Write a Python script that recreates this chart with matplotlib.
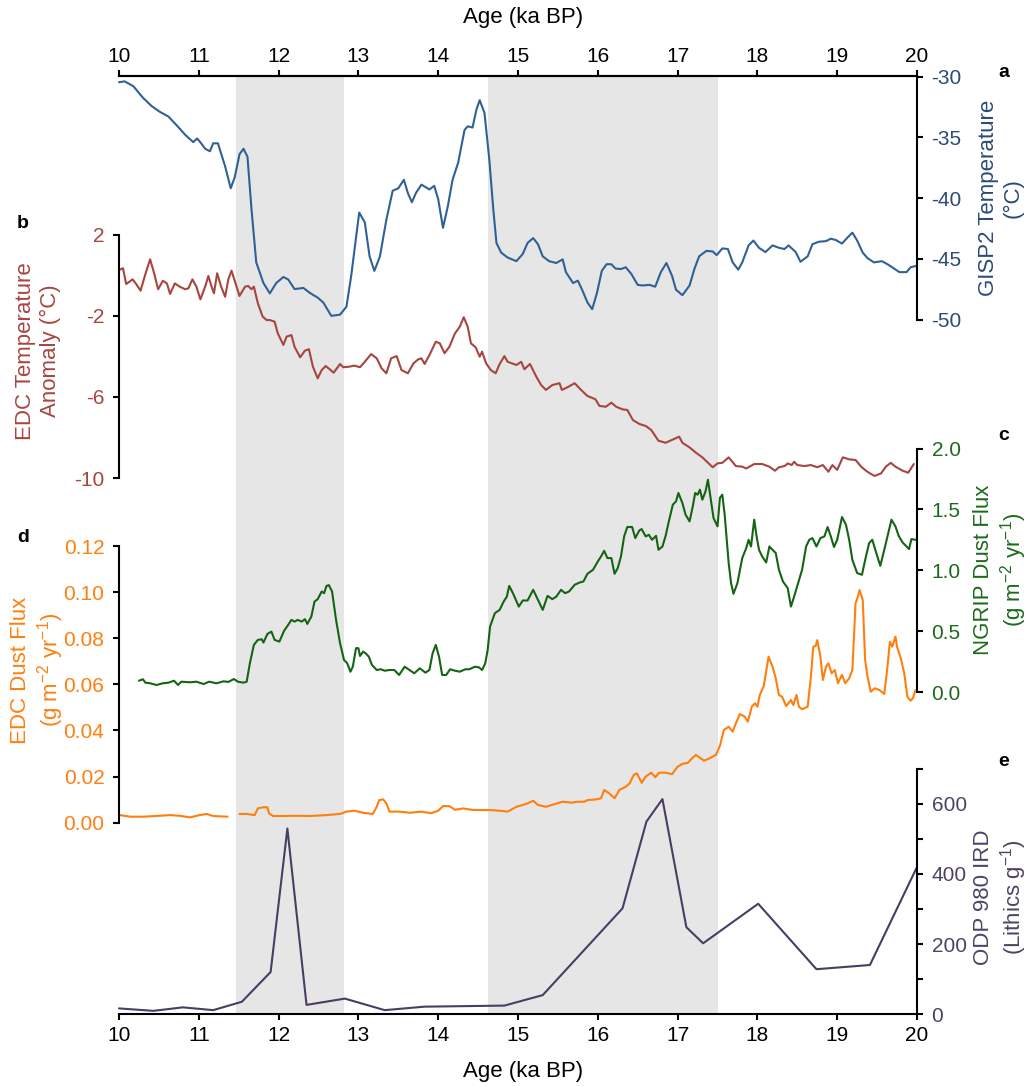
import numpy as np
import matplotlib
matplotlib.use("Agg")
import matplotlib.pyplot as plt

plt.rcParams.update({
    "font.family": ["Liberation Sans", "DejaVu Sans"],
    "axes.unicode_minus": False,
    "mathtext.fontset": "custom",
    "mathtext.rm": "Liberation Sans",
    "mathtext.it": "Liberation Sans:italic",
    "mathtext.bf": "Liberation Sans:bold",
})

# ---------------- data ----------------
# GISP2 temperature (degC)
gisp2_age = [10.00, 10.07, 10.18, 10.30, 10.41, 10.51, 10.62, 10.72, 10.83, 10.93, 10.98, 11.03, 11.08, 11.14,
             11.18, 11.24, 11.33, 11.40, 11.45, 11.51, 11.56, 11.61, 11.66, 11.72, 11.81, 11.89, 11.97, 12.06,
             12.12, 12.20, 12.31, 12.39, 12.49, 12.56, 12.66, 12.77, 12.85, 12.91, 13.01, 13.08, 13.14, 13.20,
             13.27, 13.35, 13.43, 13.50, 13.57, 13.62, 13.67, 13.72, 13.79, 13.89, 13.95, 14.00, 14.06, 14.12,
             14.18, 14.25, 14.33, 14.37, 14.43, 14.48, 14.52, 14.58, 14.64, 14.69, 14.73, 14.79, 14.87,
             14.98, 15.06, 15.12, 15.19, 15.25, 15.31, 15.39, 15.48, 15.56, 15.60, 15.69, 15.75, 15.81, 15.87,
             15.93, 15.99, 16.05, 16.11, 16.17, 16.22, 16.29, 16.35, 16.42, 16.50, 16.56, 16.65, 16.72, 16.79,
             16.86, 16.93, 16.98, 17.06, 17.15, 17.21, 17.27, 17.36, 17.44, 17.49, 17.56, 17.63, 17.69, 17.76,
             17.81, 17.89, 17.95, 18.02, 18.10, 18.19, 18.27, 18.34, 18.39, 18.48, 18.54, 18.63, 18.69, 18.77,
             18.86, 18.92, 18.98, 19.06, 19.13, 19.19, 19.25, 19.32, 19.38, 19.46, 19.56, 19.63, 19.71, 19.78,
             19.87, 19.92, 19.98]
gisp2_temp = [-30.47, -30.4, -30.8, -31.75, -32.44, -32.9, -33.3, -34.0, -34.8, -35.4, -35.1, -35.5, -35.95, -36.15,
              -35.5, -35.5, -37.4, -39.2, -38.3, -36.4, -35.95, -36.6, -40.9, -45.3, -47.0, -47.85, -47.0, -46.5,
              -46.7, -47.5, -47.4, -47.8, -48.2, -48.6, -49.7, -49.6, -48.95, -46.4, -41.2, -42.0, -44.8, -46.0,
              -44.8, -41.8, -39.4, -39.2, -38.5, -39.6, -40.35, -39.6, -38.9, -39.3, -39.0, -40.1, -42.45, -40.7,
              -38.5, -37.1, -34.4, -34.1, -34.2, -32.7, -31.95, -33.0, -36.8, -40.9, -43.7, -44.5, -44.9,
              -45.2, -44.6, -43.7, -43.3, -43.8, -44.8, -45.2, -45.35, -45.05, -46.1, -47.0, -46.8, -47.65, -48.6,
              -49.15, -47.8, -46.0, -45.45, -45.45, -45.8, -45.85, -45.7, -46.25, -47.15, -47.2, -47.15, -47.3, -46.1,
              -45.35, -46.4, -47.55, -48.0, -47.2, -45.85, -44.8, -44.35, -44.4, -44.7, -44.15, -44.2, -45.3, -45.9,
              -45.3, -43.9, -43.5, -44.1, -44.45, -43.9, -44.1, -44.2, -43.9, -44.45, -45.25, -44.8, -43.8, -43.6,
              -43.55, -43.35, -43.45, -43.75, -43.25, -42.85, -43.5, -44.5, -44.95, -45.3, -45.2, -45.45, -45.8, -46.1,
              -46.1, -45.7, -45.6]

# EDC temperature anomaly (degC)
edc_temp_age = [10.00, 10.05, 10.09, 10.13, 10.17, 10.21, 10.27, 10.33, 10.39, 10.44, 10.49, 10.55, 10.60, 10.64,
                10.70, 10.76, 10.83, 10.87, 10.92, 10.97, 11.02, 11.08, 11.12, 11.16, 11.19, 11.23, 11.28, 11.33,
                11.37, 11.41, 11.46, 11.51, 11.58, 11.62, 11.66, 11.69, 11.74, 11.80, 11.85, 11.89, 11.95, 11.99,
                12.06, 12.10, 12.16, 12.20, 12.27, 12.33, 12.38, 12.43, 12.49, 12.54, 12.59, 12.64, 12.69, 12.77,
                12.81, 12.89, 12.95, 13.02, 13.08, 13.16, 13.23, 13.29, 13.35, 13.41, 13.48, 13.54, 13.62, 13.69,
                13.75, 13.79, 13.83, 13.89, 13.97, 14.02, 14.08, 14.14, 14.21, 14.27, 14.32, 14.37, 14.41, 14.47,
                14.52, 14.55, 14.60, 14.66, 14.72, 14.77, 14.83, 14.87,
                14.98, 15.04, 15.08, 15.15, 15.23, 15.29, 15.35, 15.43, 15.52, 15.55, 15.62, 15.71, 15.79, 15.87,
                15.97, 16.02, 16.10, 16.17, 16.23, 16.31, 16.37, 16.44, 16.52, 16.60, 16.67, 16.76, 16.85, 16.93,
                17.02, 17.06, 17.15, 17.23, 17.31, 17.39, 17.44, 17.50, 17.56, 17.64, 17.73, 17.81, 17.86, 17.96,
                18.06, 18.15, 18.22, 18.27, 18.34, 18.38, 18.43, 18.46, 18.50, 18.59, 18.67, 18.75, 18.82, 18.89,
                18.94, 19.00, 19.07, 19.15, 19.23, 19.30, 19.36, 19.41, 19.47, 19.55, 19.61, 19.67, 19.73, 19.82,
                19.89, 19.96]
edc_temp = [0.27, 0.36, -0.42, -0.31, -0.19, -0.39, -0.75, 0.06, 0.80, 0.11, -0.68, -0.26, -0.39, -0.91,
            -0.39, -0.55, -0.68, -0.63, -0.19, -0.55, -1.18, -0.55, -0.02, -0.55, -0.88, 0.11, -0.55, -1.05,
            -0.19, 0.24, -0.39, -1.01, -0.55, -0.52, -0.68, -0.55, -1.37, -2.03, -2.2, -2.2, -2.28, -2.86,
            -3.43, -3.02, -2.94, -3.52, -4.04, -3.71, -3.64, -4.5, -5.08, -4.67, -4.47, -4.63, -4.8, -4.37,
            -4.53, -4.5, -4.45, -4.53, -4.26, -3.88, -4.09, -4.58, -4.83, -4.09, -3.98, -4.67, -4.83, -4.34,
            -4.14, -4.09, -4.37, -3.93, -3.27, -3.35, -3.84, -3.52, -2.86, -2.53, -2.06, -2.53, -3.35, -3.55,
            -4.01, -3.76, -4.34, -4.67, -4.83, -4.37, -3.98, -4.26,
            -4.42, -4.26, -4.63, -4.37, -5.0, -5.41, -5.65, -5.41, -5.32, -5.65, -5.52, -5.32, -5.65, -5.95,
            -6.11, -6.44, -6.48, -6.28, -6.48, -6.61, -6.64, -7.14, -7.33, -7.43, -7.63, -8.16, -8.26, -8.12,
            -7.96, -8.26, -8.49, -8.75, -8.98, -9.28, -9.47, -9.28, -9.25, -8.98, -9.41, -9.44, -9.53, -9.31,
            -9.31, -9.44, -9.64, -9.47, -9.41, -9.28, -9.36, -9.2, -9.36, -9.41, -9.36, -9.47, -9.36, -9.69,
            -9.36, -9.6, -8.98, -9.08, -9.11, -9.44, -9.64, -9.77, -9.9, -9.77, -9.44, -9.25, -9.44, -9.64,
            -9.74, -9.31]

# NGRIP dust flux (g m-2 yr-1)
ngrip_age = [10.25, 10.30, 10.33, 10.39, 10.47, 10.55, 10.62, 10.69, 10.74, 10.78, 10.89, 10.97, 11.06, 11.13,
             11.22, 11.31, 11.37, 11.44, 11.49, 11.56, 11.60, 11.64, 11.69, 11.74, 11.79, 11.81, 11.86, 11.91,
             11.95, 12.01, 12.07, 12.12, 12.16, 12.20, 12.24, 12.29, 12.33, 12.36, 12.41, 12.45, 12.49, 12.54,
             12.57, 12.60, 12.63, 12.67, 12.72, 12.77, 12.82, 12.86, 12.90, 12.93, 12.97, 13.00, 13.02, 13.06,
             13.09, 13.13, 13.17, 13.23, 13.28, 13.33, 13.39, 13.45, 13.51, 13.58, 13.64, 13.70, 13.77, 13.84,
             13.89, 13.93, 13.97, 14.01, 14.05, 14.10, 14.15, 14.21, 14.27, 14.34, 14.39, 14.46, 14.51, 14.55,
             14.59, 14.62, 14.65, 14.71, 14.77, 14.82, 14.86, 14.89, 14.94, 15.01,
             15.06, 15.12, 15.19, 15.25, 15.31, 15.37, 15.43, 15.48, 15.54, 15.59, 15.64, 15.71, 15.77, 15.82,
             15.87, 15.94, 16.00, 16.04, 16.08, 16.12, 16.17, 16.21, 16.25, 16.29, 16.33, 16.37, 16.43, 16.47,
             16.52, 16.55, 16.60, 16.64, 16.68, 16.73, 16.76, 16.81, 16.85, 16.89, 16.94, 16.98, 17.01, 17.06,
             17.10, 17.15, 17.19, 17.22, 17.25, 17.28, 17.31, 17.35, 17.38, 17.42, 17.45, 17.50, 17.53, 17.56,
             17.59, 17.64, 17.67, 17.70, 17.75, 17.79, 17.81, 17.86, 17.89, 17.92, 17.96, 17.99, 18.02, 18.06,
             18.11, 18.15, 18.19, 18.23, 18.27, 18.32, 18.38, 18.42, 18.46, 18.51, 18.56, 18.61, 18.65, 18.69,
             18.74, 18.79, 18.84, 18.88, 18.92, 18.96, 19.00, 19.06, 19.11, 19.15, 19.19, 19.25, 19.31, 19.36,
             19.40, 19.44, 19.49, 19.54, 19.59, 19.63, 19.68, 19.73, 19.77, 19.82, 19.86, 19.90, 19.93, 19.98]
ngrip_flux = [0.095, 0.107, 0.079, 0.074, 0.06, 0.074, 0.079, 0.095, 0.06, 0.087, 0.082, 0.087, 0.068, 0.087,
              0.074, 0.09, 0.085, 0.109, 0.087, 0.079, 0.087, 0.238, 0.389, 0.43, 0.435, 0.408, 0.479, 0.498,
              0.43, 0.416, 0.506, 0.553, 0.594, 0.58, 0.594, 0.58, 0.6, 0.561, 0.621, 0.744, 0.764, 0.827,
              0.813, 0.873, 0.879, 0.827, 0.594, 0.403, 0.265, 0.238, 0.169, 0.21, 0.362, 0.362, 0.298, 0.334,
              0.32, 0.293, 0.224, 0.183, 0.189, 0.177, 0.183, 0.183, 0.142, 0.21, 0.183, 0.156, 0.197, 0.161,
              0.183, 0.32, 0.389, 0.293, 0.142, 0.142, 0.189, 0.177, 0.169, 0.189, 0.189, 0.21, 0.205, 0.183,
              0.238, 0.348, 0.539, 0.649, 0.676, 0.744, 0.785, 0.873, 0.808, 0.703,
              0.753, 0.753, 0.841, 0.758, 0.676, 0.791, 0.764, 0.785, 0.841, 0.813, 0.827, 0.882, 0.9, 0.909,
              0.972, 1.005, 1.073, 1.114, 1.161, 1.101, 1.101, 0.972, 1.019, 1.114, 1.279, 1.356, 1.356, 1.265,
              1.328, 1.339, 1.279, 1.292, 1.251, 1.284, 1.169, 1.196, 1.284, 1.402, 1.539, 1.566, 1.635, 1.553,
              1.457, 1.402, 1.525, 1.635, 1.621, 1.662, 1.58, 1.648, 1.744, 1.566, 1.43, 1.361, 1.594, 1.621,
              1.457, 1.06, 0.896, 0.808, 0.896, 1.032, 1.101, 1.183, 1.251, 1.196, 1.416, 1.279, 1.169, 1.114,
              1.065, 1.196, 1.169, 1.142, 1.005, 0.909, 0.854, 0.703, 0.785, 0.896, 1.005, 1.196, 1.251, 1.265,
              1.196, 1.265, 1.279, 1.356, 1.279, 1.192, 1.251, 1.438, 1.375, 1.251, 1.087, 0.978, 0.964, 1.114,
              1.224, 1.251, 1.142, 1.038, 1.169, 1.279, 1.416, 1.361, 1.284, 1.229, 1.202, 1.175, 1.257, 1.251]

# EDC dust flux (g m-2 yr-1); NaN marks the gap in the record
edc_dust_age = [10.01, 10.14, 10.30, 10.51, 10.64, 10.76, 10.89, 11.01, 11.10, 11.18, 11.36, 11.44,
                11.51, 11.60, 11.70, 11.74, 11.81, 11.86, 11.88, 11.93, 12.06, 12.22, 12.39, 12.60, 12.77,
                12.85, 12.95, 13.06, 13.18, 13.23, 13.26, 13.31, 13.35, 13.39, 13.52, 13.64, 13.79, 13.91,
                14.00, 14.06, 14.14, 14.21, 14.31, 14.44, 14.52, 14.64, 14.77, 14.87, 14.98, 15.06, 15.12,
                15.19, 15.25, 15.35, 15.46, 15.56, 15.67, 15.75, 15.83, 15.87, 15.98, 16.04, 16.08, 16.14,
                16.21, 16.27, 16.35, 16.40, 16.45, 16.49, 16.55, 16.60, 16.67, 16.72, 16.77, 16.85, 16.93,
                17.00, 17.06, 17.13, 17.18, 17.23, 17.27, 17.33, 17.40, 17.48, 17.53, 17.58, 17.64, 17.69,
                17.73, 17.78, 17.84, 17.88, 17.93, 17.97, 18.00, 18.03, 18.08, 18.14, 18.19, 18.23, 18.27,
                18.31, 18.36, 18.42, 18.45, 18.49, 18.52, 18.56, 18.63, 18.67, 18.70, 18.73, 18.75, 18.79,
                18.82, 18.86, 18.89, 18.93, 18.97, 19.01, 19.06, 19.10, 19.15, 19.19, 19.23, 19.26, 19.28,
                19.32, 19.35, 19.38, 19.42, 19.47, 19.53, 19.59, 19.63, 19.66, 19.69, 19.73, 19.75, 19.80,
                19.84, 19.88, 19.92, 19.95, 19.98]
edc_dust_flux = [0.0033, 0.0026, 0.0026, 0.003, 0.0033, 0.003, 0.0023, 0.0033, 0.0038, 0.0029, 0.0026, np.nan,
                 0.0038, 0.0038, 0.0033, 0.0062, 0.0067, 0.0067, 0.0041, 0.0029, 0.0029, 0.003, 0.0029, 0.0033, 0.0038,
                 0.0048, 0.0052, 0.0043, 0.0038, 0.0069, 0.0098, 0.0101, 0.0084, 0.0048, 0.0048, 0.0043, 0.0048, 0.0041,
                 0.0052, 0.0072, 0.0072, 0.0056, 0.0062, 0.0055, 0.0055, 0.0055, 0.0052, 0.0048, 0.0069, 0.0077, 0.0084,
                 0.0095, 0.0077, 0.0069, 0.0081, 0.0091, 0.0087, 0.0091, 0.0091, 0.0098, 0.0101, 0.0106, 0.0142, 0.0128,
                 0.0106, 0.0142, 0.0156, 0.0171, 0.0207, 0.0214, 0.0173, 0.02, 0.0217, 0.0197, 0.0217, 0.0217, 0.021,
                 0.0243, 0.0255, 0.026, 0.0279, 0.0294, 0.0284, 0.0269, 0.0279, 0.0294, 0.0333, 0.0402, 0.0416, 0.0395,
                 0.0431, 0.0471, 0.046, 0.0438, 0.0503, 0.0518, 0.0503, 0.0554, 0.0593, 0.072, 0.0677, 0.0626, 0.0554,
                 0.0546, 0.0506, 0.0532, 0.051, 0.0554, 0.0503, 0.0492, 0.0503, 0.0633, 0.0763, 0.0766, 0.0792, 0.072,
                 0.0619, 0.0677, 0.0691, 0.0648, 0.0662, 0.0605, 0.0641, 0.0605, 0.0626, 0.0662, 0.0952, 0.098, 0.1009,
                 0.0966, 0.0706, 0.0633, 0.0568, 0.0583, 0.0575, 0.0558, 0.0677, 0.0785, 0.0763, 0.0807, 0.0763, 0.0709,
                 0.0648, 0.0546, 0.0529, 0.054, 0.0575]

# ODP 980 ice-rafted debris (lithics per gram)
odp_age = [10.0, 10.43, 10.80, 11.18, 11.54, 11.90, 12.11, 12.35, 12.83, 13.33, 13.83, 14.83, 15.31,
           16.31, 16.61, 16.81, 17.11, 17.32, 18.01, 18.74, 19.41, 20.0]
odp_ird = [16, 9, 19, 11, 35, 120, 530, 26, 44, 11, 21, 24, 54, 302, 550, 614, 248, 202, 315, 128, 140, 420]

# shaded intervals (ka BP)
shade_intervals = [(11.46, 12.82), (14.62, 17.5)]
age_ticks = list(range(10, 21))

# ---------------- styling ----------------
C_GISP = "#2f6196"
C_GISP_TXT = "#2b4a78"
C_EDCT = "#a6463f"
C_NGRIP = "#146414"
C_NGRIP_TXT = "#1c6a1c"
C_DUST = "#ff7f0e"
C_ODP = "#4b3c63"
C_ODP_TXT = "#4e4366"
SHADE = "#e6e6e6"
LW = 1.5
TICK_FS = 15
LABEL_FS = 16

W, H = 1031, 1086
fig = plt.figure(figsize=(W / 100, H / 100), dpi=100)
X0, X1 = 119, 917


def rect(top, bottom):
    return [X0 / W, 1 - bottom / H, (X1 - X0) / W, (bottom - top) / H]


def fx(x):
    return x / W


def fy(y):
    return 1 - y / H


# frame axis carrying the age scale and the shaded intervals
main = fig.add_axes(rect(76, 1014))
main.set_xlim(10, 20)
main.set_ylim(0, 1)
main.set_yticks([])
for s in ("left", "right"):
    main.spines[s].set_visible(False)
for s in ("top", "bottom"):
    main.spines[s].set_linewidth(LW)
for a0, a1 in shade_intervals:
    main.axvspan(a0, a1, color=SHADE, lw=0, zorder=0)
main.set_xticks(age_ticks)
main.tick_params(axis="x", direction="out", length=4.3, width=LW, labelsize=TICK_FS, pad=4.3)

top_axis = main.secondary_xaxis("top")
top_axis.set_xticks(age_ticks)
top_axis.spines["top"].set_linewidth(LW)
top_axis.tick_params(axis="x", direction="out", length=4, width=LW, labelsize=TICK_FS, pad=3)

fig.text(fx(523), fy(18), "Age (ka BP)", ha="center", va="center", fontsize=LABEL_FS)
fig.text(fx(523), fy(1071), "Age (ka BP)", ha="center", va="center", fontsize=LABEL_FS)


def panel(top, bottom, side, ylim, ticks, labels, color):
    ax = fig.add_axes(rect(top, bottom))
    ax.patch.set_visible(False)
    for s in ax.spines.values():
        s.set_visible(False)
    ax.spines[side].set_visible(True)
    ax.spines[side].set_linewidth(LW)
    ax.set_xlim(10, 20)
    ax.set_ylim(*ylim)
    ax.set_xticks([])
    ax.yaxis.set_ticks_position(side)
    ax.set_yticks(ticks)
    ax.set_yticklabels(labels)
    ax.tick_params(axis="y", direction="out", length=4.5, width=LW,
                   labelsize=TICK_FS, labelcolor=color, pad=6)
    return ax


ax_a = panel(76.5, 319.5, "right", (-50, -30), [-30, -35, -40, -45, -50],
             ["-30", "-35", "-40", "-45", "-50"], C_GISP_TXT)
ax_b = panel(235, 478, "left", (-10, 2), [2, -2, -6, -10], ["2", "-2", "-6", "-10"], C_EDCT)
ax_c = panel(448.5, 692.3, "right", (0, 2), [0, 0.5, 1.0, 1.5, 2.0],
             ["0.0", "0.5", "1.0", "1.5", "2.0"], C_NGRIP_TXT)
ax_d = panel(546, 822.7, "left", (0, 0.12), [0, 0.02, 0.04, 0.06, 0.08, 0.10, 0.12],
             ["0.00", "0.02", "0.04", "0.06", "0.08", "0.10", "0.12"], C_DUST)
ax_e = panel(769, 1014, "right", (0, 700), [0, 100, 200, 300, 400, 500, 600, 700],
             ["0", "", "200", "", "400", "", "600", ""], C_ODP_TXT)

line_kw = dict(lw=LW, clip_on=False, solid_joinstyle="round", solid_capstyle="round")
ax_a.plot(gisp2_age, gisp2_temp, color=C_GISP, **line_kw)
ax_b.plot(edc_temp_age, edc_temp, color=C_EDCT, **line_kw)
ax_d.plot(edc_dust_age, edc_dust_flux, color=C_DUST, **line_kw)
ax_c.plot(ngrip_age, ngrip_flux, color=C_NGRIP, **line_kw)
ax_e.plot(odp_age, odp_ird, color=C_ODP, **line_kw)

# axis titles
lab = dict(rotation=90, ha="center", va="center", multialignment="center",
           fontsize=LABEL_FS, linespacing=1.2)
fig.text(fx(1001), fy(198), "GISP2 Temperature\n(°C)", color=C_GISP_TXT, **lab)
fig.text(fx(38), fy(351), "EDC Temperature\nAnomaly (°C)", color=C_EDCT, **lab)
fig.text(fx(1001), fy(570), "NGRIP Dust Flux\n(g m$^{-2}$ yr$^{-1}$)", color=C_NGRIP_TXT, **lab)
fig.text(fx(38), fy(670), "EDC Dust Flux\n(g m$^{-2}$ yr$^{-1}$)", color=C_DUST, **lab)
fig.text(fx(1001), fy(897), "ODP 980 IRD\n(Lithics g$^{-1}$)", color=C_ODP_TXT, **lab)

# panel letters
let = dict(ha="center", va="center", fontsize=14, fontweight="bold")
fig.text(fx(1004), fy(72), "a", **let)
fig.text(fx(23), fy(224), "b", **let)
fig.text(fx(1004), fy(435), "c", **let)
fig.text(fx(23), fy(538), "d", **let)
fig.text(fx(1004), fy(761), "e", **let)

fig.savefig("out.png", dpi=100)
